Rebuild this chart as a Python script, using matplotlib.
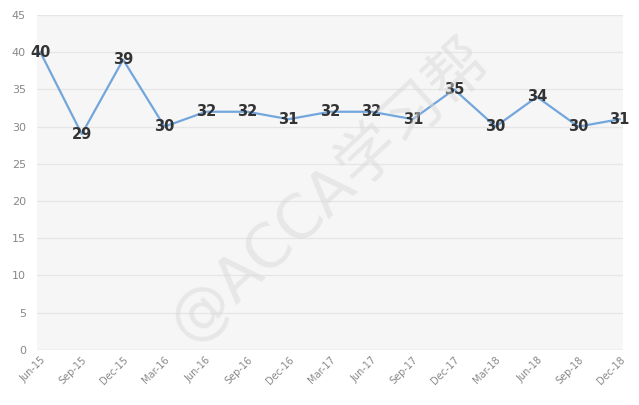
import matplotlib.pyplot as plt

periods = ['Jun-15', 'Sep-15', 'Dec-15', 'Mar-16', 'Jun-16', 'Sep-16', 'Dec-16', 'Mar-17',
           'Jun-17', 'Sep-17', 'Dec-17', 'Mar-18', 'Jun-18', 'Sep-18', 'Dec-18']
values = [40, 29, 39, 30, 32, 32, 31, 32, 32, 31, 35, 30, 34, 30, 31]
y_ticks = [0, 5, 10, 15, 20, 25, 30, 35, 40, 45]

plt.rcParams['font.family'] = ['DejaVu Sans', 'Noto Sans CJK SC']

fig = plt.figure(figsize=(6.39, 4.05), dpi=100)
ax = fig.add_axes([0.058, 0.136, 0.917, 0.827])
ax.set_facecolor('#f6f6f6')

x = list(range(len(periods)))
ax.plot(x, values, color='#72a6dc', lw=1.6, zorder=3)
for xi, v in zip(x, values):
    ax.text(xi, v, str(v), ha='center', va='center', fontsize=10.5,
            fontweight='bold', color='#333333', zorder=4)

ax.set_xlim(-0.08, 14.08)
ax.set_ylim(0, 45)
ax.set_yticks(y_ticks)
ax.set_xticks(x)
ax.set_xticklabels(periods, rotation=45, ha='right', rotation_mode='anchor')
ax.tick_params(axis='both', length=0, colors='#888888', labelsize=7)
ax.tick_params(axis='y', labelsize=8, pad=8)
ax.grid(axis='y', color='#e6e6e6', lw=0.9, zorder=0)
for s in ax.spines.values():
    s.set_visible(False)
ax.axhline(0, color='#dddddd', lw=1, zorder=1)

# watermark
fig.text(0.515, 0.53, '@ACCA学习帮', fontsize=44, color='#d8d8d8', alpha=0.5,
         rotation=43, ha='center', va='center')

fig.savefig('out.png', dpi=100)
